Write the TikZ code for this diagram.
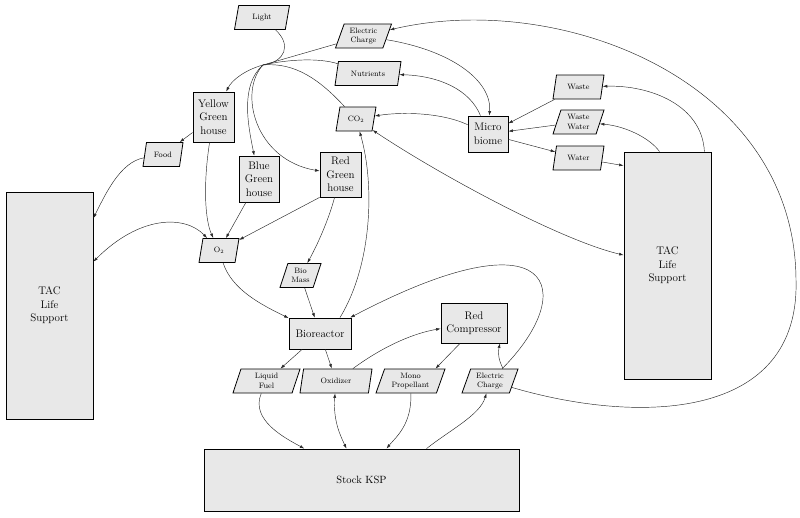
\documentclass[tikz,border=0pt]{standalone}
\usepackage{tikz}
\usetikzlibrary{arrows.meta,shapes.geometric}
\definecolor{boxfill}{RGB}{232,232,232}
\definecolor{wire}{RGB}{40,40,40}

\begin{document}
\begin{tikzpicture}[
  x=1pt, y=-1pt,
  >={Latex[length=4.5pt,width=3pt]},
  proc/.style={draw, line width=0.8pt, fill=boxfill, align=center, inner sep=1pt,
               font=\fontsize{11}{13.5}\selectfont},
  res/.style={trapezium, trapezium left angle=65, trapezium right angle=115,
              trapezium stretches body, draw, line width=0.8pt, fill=boxfill,
              align=center, inner sep=1pt, minimum height=24pt,
              font=\fontsize{7.8}{9.5}\selectfont},
  rel/.style={->, draw=wire, line width=0.45pt},
  both/.style={<->, draw=wire, line width=0.45pt},
  wireonly/.style={draw=wire, line width=0.45pt}
]
\useasboundingbox (0,0) rectangle (800,517);

% greenhouses and inputs
\node[res, minimum width=55pt] (light)  at (262,17.5)  {Light};
\node[res, minimum width=56pt] (ecTop)  at (363.5,36)  {Electric\\Charge};
\node[res, minimum width=66pt] (nutr)   at (368,73.5)  {Nutrients};
\node[res, minimum width=40pt] (co2)    at (356,119)   {CO$_2$};
\node[proc, minimum width=41pt, minimum height=50pt] (yellow) at (213.5,117) {Yellow\\Green\\house};
\node[res, minimum width=40pt] (food)   at (163,154.5) {Food};
\node[proc, minimum width=40pt, minimum height=46pt] (blue)   at (259,179)   {Blue\\Green\\house};
\node[proc, minimum width=41pt, minimum height=45pt] (red)    at (340.5,174.5) {Red\\Green\\house};
\node[res, minimum width=40pt] (o2)     at (219,250.5) {O$_2$};
\node[res, minimum width=41pt] (biomass) at (300.5,275.5) {Bio\\Mass};
\coordinate (hub) at (263,65);

% reactor chain
\node[proc, minimum width=62pt, minimum height=31pt] (bioreactor) at (320,333.5) {Bioreactor};
\node[proc, minimum width=66pt, minimum height=40pt] (redComp) at (474,323) {Red\\Compressor};
\node[res, minimum width=67pt] (liquid) at (266.5,381) {Liquid\\Fuel};
\node[res, minimum width=72pt] (oxid)   at (336,381)   {Oxidizer};
\node[res, minimum width=69pt] (mono)   at (410.5,381) {Mono\\Propellant};
\node[res, minimum width=56pt] (ecBot)  at (490,381)   {Electric\\Charge};
\node[proc, minimum width=315pt, minimum height=62pt, font=\fontsize{10.5}{13}\selectfont] (stock) at (361.5,480) {Stock KSP};

% microbiome side
\node[proc, minimum width=40pt, minimum height=36pt] (micro) at (488,134) {Micro\\biome};
\node[res, minimum width=51pt] (waste)  at (578.5,87)  {Waste};
\node[res, minimum width=51pt] (wasteW) at (578.5,122) {Waste\\Water};
\node[res, minimum width=51pt] (water)  at (578.5,158) {Water};
\node[proc, minimum width=87pt, minimum height=227pt] (tacR) at (667.5,265.5) {TAC\\Life\\Support};
\node[proc, minimum width=87pt, minimum height=227pt] (tacL) at (49.5,305.5)  {TAC\\Life\\Support};

% into the greenhouses
\draw[wireonly] (light) .. controls (292,45) and (285,62) .. (hub);
\draw[wireonly] (ecTop) -- (hub);
\draw[wireonly] (nutr) .. controls (320,58) and (290,59) .. (hub);
\draw[wireonly] (co2) .. controls (320,80) and (295,62) .. (hub);
\draw[rel] (hub) .. controls (245,70) and (232,80) .. (yellow);
\draw[rel] (hub) .. controls (240,85) and (248,125) .. (blue);
\draw[rel] (hub) .. controls (238,92) and (255,160) .. (red);

% greenhouse outputs
\draw[rel] (yellow) -- (food);
\draw[rel] (food) .. controls (120,162) and (105,195) .. (tacL);
\draw[rel] (yellow) .. controls (203,185) and (205,220) .. (o2);
\draw[rel] (blue) -- (o2);
\draw[rel] (red.south west) -- (o2);
\draw[both] (o2) .. controls (185,215) and (140,215) .. (tacL);
\draw[rel] (red) .. controls (330,215) and (320,240) .. (biomass);
\draw[rel] (biomass) -- (bioreactor);
\draw[rel] (o2) .. controls (232,290) and (262,305) .. (bioreactor);
\draw[rel] ([xshift=20pt]bioreactor.north) .. controls (372,265) and (375,185) .. (co2);

% microbiome
\draw[rel] (ecTop) .. controls (450,50) and (492,80) .. (micro);
\draw[rel] (micro) .. controls (470,90) and (440,76) .. (nutr);
\draw[rel] (micro) .. controls (440,112) and (400,112) .. (co2);
\draw[rel] (waste) -- (micro);
\draw[rel] (wasteW) -- (micro);
\draw[rel] (micro) -- (water);
\draw[rel] (water) -- ([yshift=-14pt]tacR.north west);
\draw[rel] ([xshift=-7pt]tacR.north east) .. controls (702,105) and (650,85) .. (waste);
\draw[rel] ([xshift=-8pt]tacR.north) .. controls (650,138) and (625,126) .. (wasteW);
\draw[both] (co2) .. controls (440,175) and (560,240) .. (tacR);

% reactor chain
\draw[rel] (bioreactor) -- (liquid);
\draw[rel] (bioreactor) -- (oxid);
\draw[rel] (oxid) .. controls (385,345) and (415,333) .. (redComp);
\draw[rel] ([xshift=-14pt]redComp.south) -- ([xshift=25pt]mono.north);
\draw[rel] (ecBot) .. controls (580,290) and (555,210) .. (bioreactor);
\draw[rel] ([xshift=13pt]ecBot.north) to[bend left=20] ([xshift=26pt]redComp.south);
\draw[rel] (ecBot) .. controls (640,425) and (800,420) .. (796,280)
                   .. controls (795,80) and (560,-10) .. (ecTop);

% stock KSP
\draw[rel] (liquid) .. controls (250,420) and (285,438) .. (stock);
\draw[both] (oxid) .. controls (333,420) and (340,435) .. (stock);
\draw[rel] (mono) .. controls (412,425) and (395,438) .. (stock);
\draw[rel] ([xshift=65pt]stock.north) .. controls (450,430) and (480,415) .. (ecBot);
\end{tikzpicture}
\end{document}
